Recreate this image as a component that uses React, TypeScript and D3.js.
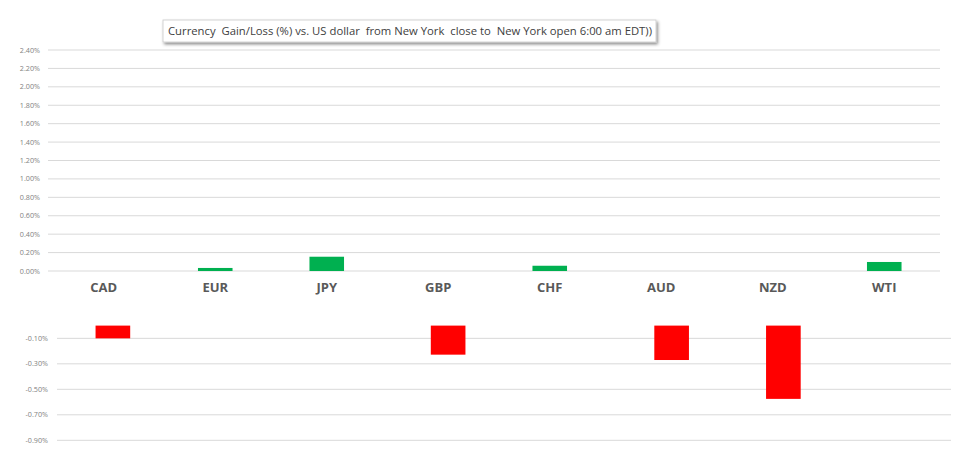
import React from "react";
import * as d3 from "d3";

const categories = ["CAD", "EUR", "JPY", "GBP", "CHF", "AUD", "NZD", "WTI"];
const gains = [0, 0.033, 0.155, 0, 0.057, 0, 0, 0.098];
const losses = [-0.1, 0, 0, -0.228, 0, -0.27, -0.575, 0];
const topTicks = [0, 0.2, 0.4, 0.6, 0.8, 1.0, 1.2, 1.4, 1.6, 1.8, 2.0, 2.2, 2.4];
const bottomTicks = [-0.1, -0.3, -0.5, -0.7, -0.9];
const title =
  "Currency  Gain/Loss (%) vs. US dollar  from New York  close to  New York open 6:00 am EDT))";

export default function App() {
  const W = 978;
  const H = 456;

  const xTop = d3.scaleBand<string>().domain(categories).range([48, 940]).paddingInner(0.69).paddingOuter(0.345);
  const yTop = d3.scaleLinear().domain([0, 2.4]).range([271, 50]);

  const xBot = d3.scaleBand<string>().domain(categories).range([57, 951]).paddingInner(0.69).paddingOuter(0.345);
  const yBot = d3.scaleLinear().domain([0, -0.9]).range([325.6, 440.3]);

  const fmt = (v: number) => v.toFixed(2) + "%";

  const xTopCenter = d3.scaleBand<string>().domain(categories).range([48, 940]);

  return (
    <svg
      width={W}
      height={H}
      style={{ position: "absolute", left: 0, top: 0, background: "#fff" }}
      fontFamily="'Open Sans', 'Liberation Sans', sans-serif"
    >
      <defs>
        <filter id="sh" x="-5%" y="-30%" width="110%" height="170%">
          <feDropShadow dx="1.5" dy="2" stdDeviation="1.5" floodColor="#000" floodOpacity="0.45" />
        </filter>
      </defs>
      <rect x={0} y={0} width={W} height={H} fill="#fff" />

      {/* top panel gridlines */}
      {topTicks.map((t) => (
        <g key={"t" + t}>
          <line x1={48} x2={940} y1={yTop(t)} y2={yTop(t)} stroke="#d9d9d9" strokeWidth={1} />
          <text x={40} y={yTop(t)} dy="0.35em" textAnchor="end" fontSize={7.2} fill="#7f7f7f">
            {fmt(t)}
          </text>
        </g>
      ))}
      {categories.map((c, i) =>
        gains[i] > 0 ? (
          <rect
            key={"g" + c}
            x={xTop(c)}
            width={xTop.bandwidth()}
            y={yTop(gains[i])}
            height={yTop(0) - yTop(gains[i])}
            fill="#00B050"
          />
        ) : null
      )}
      {categories.map((c) => (
        <text
          key={"l" + c}
          x={(xTopCenter(c) as number) + xTopCenter.bandwidth() / 2}
          y={292}
          textAnchor="middle"
          fontSize={13}
          fontWeight="bold"
          fill="#595959"
        >
          {c}
        </text>
      ))}

      {/* bottom panel */}
      {bottomTicks.map((t) => (
        <g key={"b" + t}>
          <line x1={57} x2={951} y1={yBot(t)} y2={yBot(t)} stroke="#d9d9d9" strokeWidth={1} />
          <text x={48} y={yBot(t)} dy="0.35em" textAnchor="end" fontSize={7.2} fill="#7f7f7f">
            {fmt(t)}
          </text>
        </g>
      ))}
      {categories.map((c, i) =>
        losses[i] < 0 ? (
          <rect
            key={"r" + c}
            x={xBot(c)}
            width={xBot.bandwidth()}
            y={yBot(0)}
            height={yBot(losses[i]) - yBot(0)}
            fill="#FF0000"
          />
        ) : null
      )}

      {/* title box */}
      <rect x={163} y={20} width={493} height={22} fill="#fff" stroke="#c8c8c8" strokeWidth={0.8} filter="url(#sh)" />
      <text
        x={168}
        y={35}
        fontSize={11}
        fill="#404040"
        textLength={484}
        lengthAdjust="spacingAndGlyphs"
        style={{ whiteSpace: "pre" }}
      >
        {title}
      </text>
    </svg>
  );
}
